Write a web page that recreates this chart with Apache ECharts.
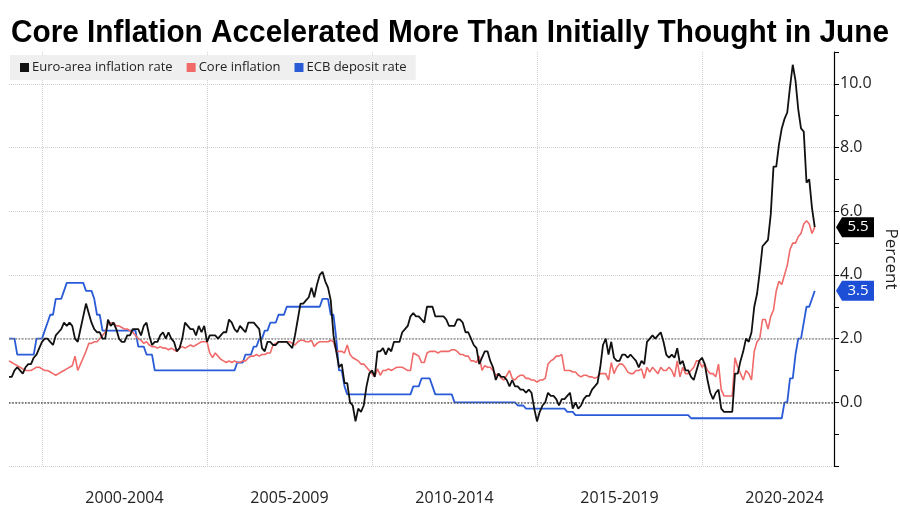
<!DOCTYPE html>
<html>
<head>
<meta charset="utf-8">
<script src="https://cdn.jsdelivr.net/npm/echarts@6/dist/echarts.min.js"></script>
<style>html,body{margin:0;padding:0;background:#fff}#c{width:900px;height:510px}</style>
</head>
<body>
<div id="c"></div>
<script>
const TITLE = 'Core Inflation Accelerated More Than Initially Thought in June';
const seriesNames = ['Euro-area inflation rate', 'Core inflation', 'ECB deposit rate'];
const periodLabels = ['2000-2004', '2005-2009', '2010-2014', '2015-2019', '2020-2024'];
const firstYear = 1999;
const lastYear = 2023;
const refLines = [0, 2];

// Monthly, Jan 1999 .. Jun 2023
const headline = [
  0.8, 0.8, 1.0, 1.1, 1.0, 0.9, 1.1, 1.2, 1.2, 1.4, 1.5, 1.7,
  1.9, 2.0, 2.0, 1.9, 1.8, 2.1, 2.2, 2.3, 2.5, 2.4, 2.5, 2.4,
  2.0, 1.9, 2.3, 2.7, 3.1, 2.8, 2.5, 2.3, 2.2, 2.2, 2.0, 2.0,
  2.6, 2.4, 2.5, 2.3, 2.0, 1.9, 1.9, 2.1, 2.1, 2.3, 2.3, 2.3,
  2.1, 2.4, 2.5, 2.1, 1.8, 1.9, 1.9, 2.1, 2.2, 2.0, 2.2, 2.0,
  1.9, 1.6, 1.7, 2.0, 2.5, 2.4, 2.3, 2.3, 2.1, 2.4, 2.2, 2.4,
  1.9, 2.1, 2.1, 2.1, 2.0, 2.1, 2.2, 2.2, 2.6, 2.5, 2.3, 2.2,
  2.4, 2.3, 2.2, 2.5, 2.5, 2.5, 2.4, 2.3, 1.7, 1.6, 1.9, 1.9,
  1.8, 1.8, 1.9, 1.9, 1.9, 1.9, 1.8, 1.7, 2.1, 2.6, 3.1, 3.1,
  3.2, 3.3, 3.6, 3.3, 3.7, 4.0, 4.1, 3.8, 3.6, 3.2, 2.1, 1.6,
  1.1, 1.2, 0.6, 0.6, 0.0, -0.1, -0.6, -0.2, -0.3, -0.1, 0.5, 0.9,
  1.0, 0.8, 1.6, 1.6, 1.7, 1.5, 1.7, 1.6, 1.9, 1.9, 1.9, 2.2,
  2.3, 2.4, 2.7, 2.8, 2.7, 2.7, 2.6, 2.5, 3.0, 3.0, 3.0, 2.7,
  2.7, 2.7, 2.7, 2.6, 2.4, 2.4, 2.4, 2.6, 2.6, 2.5, 2.2, 2.2,
  2.0, 1.8, 1.7, 1.2, 1.4, 1.6, 1.6, 1.3, 1.1, 0.7, 0.9, 0.8,
  0.8, 0.7, 0.5, 0.7, 0.5, 0.5, 0.4, 0.4, 0.3, 0.4, 0.3, -0.2,
  -0.6, -0.3, -0.1, 0.0, 0.3, 0.2, 0.2, 0.1, -0.1, 0.1, 0.1, 0.2,
  0.3, -0.2, 0.0, -0.2, -0.1, 0.1, 0.2, 0.2, 0.4, 0.5, 0.6, 1.1,
  1.8, 2.0, 1.5, 1.9, 1.4, 1.3, 1.3, 1.5, 1.5, 1.4, 1.5, 1.4,
  1.3, 1.1, 1.3, 1.2, 1.9, 2.0, 2.1, 2.0, 2.1, 2.2, 1.9, 1.5,
  1.4, 1.5, 1.4, 1.7, 1.2, 1.3, 1.0, 1.0, 0.8, 0.7, 1.0, 1.3,
  1.4, 1.2, 0.7, 0.3, 0.1, 0.3, 0.4, -0.2, -0.3, -0.3, -0.3, -0.3,
  0.9, 0.9, 1.3, 1.6, 2.0, 1.9, 2.2, 3.0, 3.4, 4.1, 4.9, 5.0,
  5.1, 5.9, 7.4, 7.4, 8.1, 8.6, 8.9, 9.1, 9.9, 10.6, 10.1, 9.2,
  8.6, 8.5, 6.9, 7.0, 6.1, 5.5
];

const core = [
  1.3, 1.25, 1.2, 1.15, 1.1, 1.05, 1.0, 1.0, 1.0, 1.05, 1.1, 1.1,
  1.05, 1.0, 1.0, 0.95, 0.9, 0.85, 0.9, 0.95, 1.0, 1.05, 1.1, 1.15,
  1.45, 1.0, 1.2, 1.4, 1.6, 1.85, 1.85, 1.9, 1.9, 2.0, 2.1, 2.2,
  2.45, 2.5, 2.5, 2.4, 2.4, 2.35, 2.3, 2.3, 2.25, 2.2, 2.1, 2.0,
  1.95, 1.85, 1.9, 1.8, 1.75, 1.75, 1.7, 1.75, 1.7, 1.7, 1.65, 1.7,
  1.65, 1.6, 1.7, 1.75, 1.7, 1.75, 1.8, 1.75, 1.8, 1.85, 1.9, 1.9,
  1.9, 1.55, 1.4, 1.55, 1.45, 1.35, 1.3, 1.25, 1.3, 1.25, 1.3, 1.25,
  1.25, 1.3, 1.3, 1.4, 1.45, 1.45, 1.5, 1.45, 1.5, 1.5, 1.55, 1.55,
  1.8, 1.85, 1.9, 1.9, 1.9, 1.9, 1.9, 1.85, 1.8, 1.9, 1.95, 1.95,
  1.9, 1.9, 1.95, 1.75, 1.85, 1.9, 1.9, 1.9, 1.9, 1.95, 1.9, 1.6,
  1.6, 1.6, 1.55, 1.8, 1.5, 1.4, 1.35, 1.3, 1.2, 1.2, 1.1, 1.0,
  0.9, 0.8, 1.05, 0.85, 1.0, 1.0, 1.05, 1.0, 1.05, 1.1, 1.1, 1.1,
  1.05, 1.0, 1.0, 1.55, 1.5, 1.45, 1.25, 1.25, 1.55, 1.6, 1.6, 1.6,
  1.55, 1.6, 1.6, 1.6, 1.6, 1.65, 1.65, 1.6, 1.5, 1.5, 1.45, 1.45,
  1.3, 1.3, 1.25, 1.45, 1.0, 1.15, 1.1, 1.1, 1.0, 0.85, 0.9, 0.75,
  0.7, 0.85, 1.0, 0.75, 0.7, 0.8, 0.85, 0.85, 0.75, 0.75, 0.7, 0.7,
  0.63, 0.7, 0.7, 0.75, 1.2, 1.3, 1.35, 1.45, 1.45, 1.5, 1.0, 1.0,
  1.0, 0.95, 0.95, 0.85, 0.8, 0.85, 0.85, 0.8, 0.8, 0.75, 0.8, 0.9,
  0.9, 0.9, 0.7, 1.25, 0.9, 1.1, 1.2, 1.2, 1.1, 0.95, 0.9, 0.9,
  1.0, 1.0, 1.05, 0.75, 1.1, 0.95, 1.1, 1.0, 0.9, 1.1, 1.0, 1.0,
  1.1, 1.0, 0.8, 1.3, 0.8, 1.1, 0.9, 0.9, 1.0, 1.1, 1.3, 1.3,
  1.1, 1.2, 1.0, 0.9, 0.9, 0.8, 1.2, 0.4, 0.2, 0.2, 0.2, 0.2,
  1.4, 1.1, 0.9, 0.7, 1.0, 0.9, 0.7, 1.6, 1.9, 2.0, 2.6, 2.6,
  2.3, 2.7, 2.9, 3.5, 3.8, 3.7, 4.0, 4.3, 4.8, 5.0, 5.0, 5.2,
  5.3, 5.6, 5.7, 5.6, 5.3, 5.5
];

const deposit = [
  2.0, 2.0, 2.0, 1.5, 1.5, 1.5, 1.5, 1.5, 1.5, 1.5, 2.0, 2.0,
  2.0, 2.25, 2.5, 2.75, 2.75, 3.25, 3.25, 3.25, 3.5, 3.75, 3.75, 3.75,
  3.75, 3.75, 3.75, 3.75, 3.5, 3.5, 3.5, 3.25, 2.75, 2.75, 2.25, 2.25,
  2.25, 2.25, 2.25, 2.25, 2.25, 2.25, 2.25, 2.25, 2.25, 2.25, 2.25, 1.75,
  1.75, 1.75, 1.5, 1.5, 1.5, 1.0, 1.0, 1.0, 1.0, 1.0, 1.0, 1.0,
  1.0, 1.0, 1.0, 1.0, 1.0, 1.0, 1.0, 1.0, 1.0, 1.0, 1.0, 1.0,
  1.0, 1.0, 1.0, 1.0, 1.0, 1.0, 1.0, 1.0, 1.0, 1.0, 1.0, 1.25,
  1.25, 1.25, 1.5, 1.5, 1.5, 1.75, 1.75, 2.0, 2.0, 2.25, 2.25, 2.5,
  2.5, 2.5, 2.75, 2.75, 2.75, 3.0, 3.0, 3.0, 3.0, 3.0, 3.0, 3.0,
  3.0, 3.0, 3.0, 3.0, 3.0, 3.0, 3.25, 3.25, 3.25, 2.75, 2.75, 2.0,
  1.0, 1.0, 0.5, 0.25, 0.25, 0.25, 0.25, 0.25, 0.25, 0.25, 0.25, 0.25,
  0.25, 0.25, 0.25, 0.25, 0.25, 0.25, 0.25, 0.25, 0.25, 0.25, 0.25, 0.25,
  0.25, 0.25, 0.25, 0.5, 0.5, 0.5, 0.75, 0.75, 0.75, 0.75, 0.5, 0.25,
  0.25, 0.25, 0.25, 0.25, 0.25, 0.25, 0.0, 0.0, 0.0, 0.0, 0.0, 0.0,
  0.0, 0.0, 0.0, 0.0, 0.0, 0.0, 0.0, 0.0, 0.0, 0.0, 0.0, 0.0,
  0.0, 0.0, 0.0, 0.0, 0.0, -0.1, -0.1, -0.1, -0.2, -0.2, -0.2, -0.2,
  -0.2, -0.2, -0.2, -0.2, -0.2, -0.2, -0.2, -0.2, -0.2, -0.2, -0.2, -0.3,
  -0.3, -0.3, -0.4, -0.4, -0.4, -0.4, -0.4, -0.4, -0.4, -0.4, -0.4, -0.4,
  -0.4, -0.4, -0.4, -0.4, -0.4, -0.4, -0.4, -0.4, -0.4, -0.4, -0.4, -0.4,
  -0.4, -0.4, -0.4, -0.4, -0.4, -0.4, -0.4, -0.4, -0.4, -0.4, -0.4, -0.4,
  -0.4, -0.4, -0.4, -0.4, -0.4, -0.4, -0.4, -0.4, -0.5, -0.5, -0.5, -0.5,
  -0.5, -0.5, -0.5, -0.5, -0.5, -0.5, -0.5, -0.5, -0.5, -0.5, -0.5, -0.5,
  -0.5, -0.5, -0.5, -0.5, -0.5, -0.5, -0.5, -0.5, -0.5, -0.5, -0.5, -0.5,
  -0.5, -0.5, -0.5, -0.5, -0.5, -0.5, 0.0, 0.0, 0.75, 0.75, 1.5, 2.0,
  2.0, 2.5, 3.0, 3.0, 3.25, 3.5
];

// Month categories: Jan 1999 .. Jan 2024 (axis end)
const months = [];
for (let y = firstYear; y <= lastYear; y++) {
  for (let m = 1; m <= 12; m++) months.push(y + '-' + String(m).padStart(2, '0'));
}
months.push((lastYear + 1) + '-01');

// period label placed at the middle of its 5-year span
const labelAt = new Map();
periodLabels.forEach(lbl => {
  const start = parseInt(lbl.slice(0, 4), 10);
  labelAt.set((start + 2) + '-07', lbl);
});

const COLORS = { headline: '#111111', core: '#f06a6a', deposit: '#2a5bd7', depositTag: '#1c4fd6' };
const tagPath = 'path://M0,10 L7,0 L44,0 L44,20 L7,20 Z';
const axisEnd = months[months.length - 1];

function tag(values, color) {
  const last = values[values.length - 1];
  return {
    silent: true,
    symbol: tagPath,
    symbolSize: [38, 20],
    symbolOffset: [21, 0],
    itemStyle: { color: color },
    label: {
      show: true, position: 'inside', color: '#fff', fontSize: 15,
      fontFamily: 'Open Sans', offset: [3, 0],
      formatter: p => Number(p.value).toFixed(1)
    },
    data: [{ coord: [axisEnd, last], value: last }]
  };
}

// title width fit
const titleFont = 'bold 31px "Liberation Sans", Arial, sans-serif';
const ctx = document.createElement('canvas').getContext('2d');
ctx.font = titleFont;
const titleScale = 878 / ctx.measureText(TITLE).width;

const chart = echarts.init(document.getElementById('c'), null, { renderer: 'canvas' });
chart.setOption({
  backgroundColor: '#ffffff',
  animation: false,
  graphic: [{
    type: 'text', x: 11, y: 18, scaleX: titleScale,
    style: { text: TITLE, font: titleFont, fill: '#000' }
  }],
  legend: {
    left: 10, top: 55,
    data: seriesNames,
    icon: 'rect', itemWidth: 9, itemHeight: 9, itemGap: 14,
    backgroundColor: '#efefef', padding: [6, 9, 6, 10],
    textStyle: { fontSize: 13, color: '#222', fontFamily: 'Open Sans', padding: [0, 0, 0, -2] }
  },
  grid: { left: 9, right: 66, top: 52, bottom: 44, containLabel: false, outerBoundsMode: 'none' },
  xAxis: {
    type: 'category', data: months, boundaryGap: false,
    axisLine: { show: false }, axisTick: { show: false },
    axisLabel: {
      interval: (i, v) => labelAt.has(v),
      formatter: v => labelAt.get(v) || '',
      fontSize: 16, color: '#222', fontFamily: 'Open Sans', margin: 24
    },
    splitLine: {
      show: true,
      interval: (i, v) => v.endsWith('-01') && parseInt(v.slice(0, 4), 10) % 5 === 0,
      lineStyle: { type: 'dotted', color: '#cfcfcf', width: 1 }
    }
  },
  yAxis: {
    type: 'value', position: 'right', min: -2, max: 11, interval: 2,
    axisLine: { show: true, lineStyle: { color: '#000', width: 1.2 } },
    axisTick: { show: true, length: 5, lineStyle: { color: '#000' } },
    minorTick: { show: true, splitNumber: 2, length: 5, lineStyle: { color: '#000' } },
    axisLabel: {
      formatter: v => (v >= 0 && v <= 10) ? v.toFixed(1) : '',
      fontSize: 16, color: '#222', fontFamily: 'Open Sans', margin: 6
    },
    splitLine: { show: true, showMaxLine: false, lineStyle: { type: 'dotted', color: '#cfcfcf', width: 1 } },
    name: 'Percent', nameLocation: 'middle', nameRotate: -90, nameGap: 36,
    nameTextStyle: { fontSize: 17, color: '#222', fontFamily: 'Open Sans' }
  },
  series: [
    {
      name: seriesNames[2], type: 'line', data: deposit, color: COLORS.deposit,
      showSymbol: false, symbol: 'none', lineStyle: { width: 1.8 }, z: 3,
      markLine: {
        silent: true, symbol: 'none', label: { show: false },
        data: refLines.map(v => ({
          yAxis: v,
          lineStyle: { type: 'dotted', color: v === 0 ? '#555' : '#8a8a8a', width: 1.6 }
        }))
      },
      markPoint: tag(deposit, COLORS.depositTag)
    },
    {
      name: seriesNames[1], type: 'line', data: core, color: COLORS.core,
      showSymbol: false, symbol: 'none', lineStyle: { width: 1.6 }, z: 4
    },
    {
      name: seriesNames[0], type: 'line', data: headline, color: COLORS.headline,
      showSymbol: false, symbol: 'none', lineStyle: { width: 1.8 }, z: 5,
      markPoint: tag(headline, '#000')
    }
  ]
});
</script>
</body>
</html>
